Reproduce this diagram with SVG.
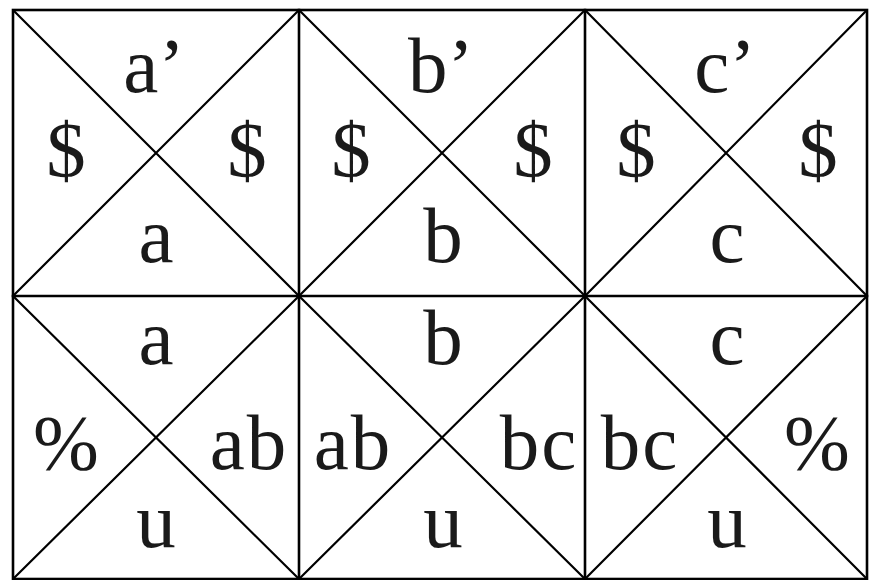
<svg xmlns="http://www.w3.org/2000/svg" width="869" height="580" viewBox="0 0 869 580">
<style>
.ln{stroke:#000;stroke-width:2.6;fill:none;stroke-linecap:square}
.dg{stroke:#000;stroke-width:2.2;fill:none}
text{font-family:"Liberation Serif","DejaVu Serif",serif;font-size:79px;fill:#1a1a1a;text-anchor:middle}
.w{letter-spacing:2px}
</style>
<rect width="869" height="580" fill="#fff"/>
<g id="cell-1-1">
<path class="dg" d="M13,10 L299,296 M299,10 L13,296"/>
<text x="154" y="92">a’</text><text x="66" y="176">$</text><text x="247" y="176">$</text><text x="156" y="262">a</text>
</g>
<g id="cell-1-2">
<path class="dg" d="M299,10 L585,296 M585,10 L299,296"/>
<text x="441" y="92">b’</text><text x="351" y="176">$</text><text x="533" y="176">$</text><text x="443" y="262">b</text>
</g>
<g id="cell-1-3">
<path class="dg" d="M585,10 L867,296 M867,10 L585,296"/>
<text x="725" y="92">c’</text><text x="636" y="176">$</text><text x="818" y="176">$</text><text x="727" y="262">c</text>
</g>
<g id="cell-2-1">
<path class="dg" d="M13,296 L299,579 M299,296 L13,579"/>
<text x="156" y="364">a</text><text x="66" y="469">%</text><text class="w" x="249" y="469">ab</text><text x="156" y="547">u</text>
</g>
<g id="cell-2-2">
<path class="dg" d="M299,296 L585,579 M585,296 L299,579"/>
<text x="443" y="364">b</text><text class="w" x="353" y="469">ab</text><text class="w" x="539" y="469">bc</text><text x="443" y="547">u</text>
</g>
<g id="cell-2-3">
<path class="dg" d="M585,296 L867,579 M867,296 L585,579"/>
<text x="727" y="364">c</text><text class="w" x="640" y="469">bc</text><text x="817" y="469">%</text><text x="727" y="547">u</text>
</g>
<g id="grid">
<rect class="ln" x="13" y="10" width="854" height="569"/>
<path class="ln" d="M299,10 V579 M585,10 V579 M13,296 H867"/>
</g>
</svg>
